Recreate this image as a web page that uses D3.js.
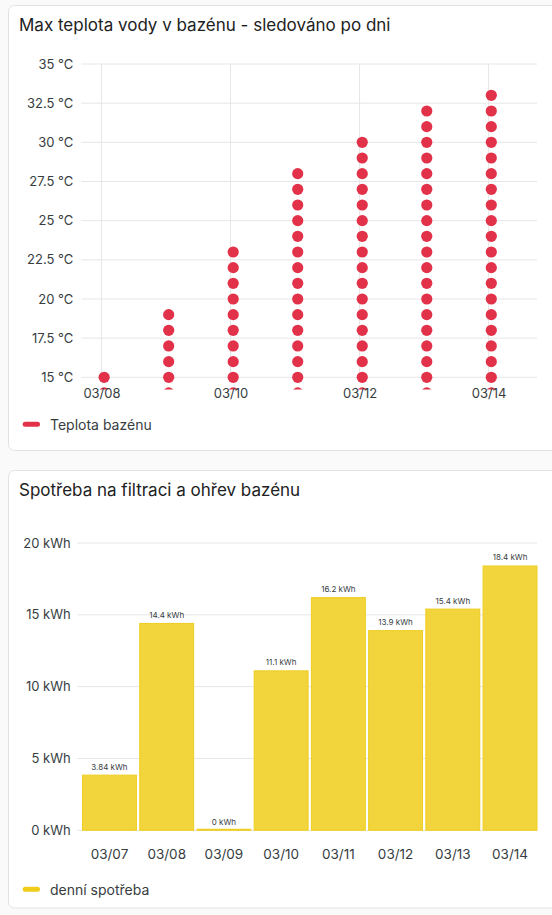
<!DOCTYPE html>
<html>
<head>
<meta charset="utf-8">
<script src="https://cdn.jsdelivr.net/npm/d3@7"></script>
<style>
  html, body { margin: 0; padding: 0; background: #fafafa; }
  svg { display: block; font-family: Inter, "Noto Sans", sans-serif; }
</style>
</head>
<body>
<svg id="chart" width="552" height="915"></svg>
<script>
// ---------- DATA ----------
// Chart 1: pool water temperature readings per day (°C)
const tempTitle = "Max teplota vody v bazénu - sledováno po dni";
const tempLegend = "Teplota bazénu";
const tempDays = ["2024-03-08", "2024-03-09", "2024-03-10", "2024-03-11", "2024-03-12", "2024-03-13", "2024-03-14"];
const tempReadings = [
  [14, 15],
  [14, 15, 16, 17, 18, 19],
  [14, 15, 16, 17, 18, 19, 20, 21, 22, 23],
  [14, 15, 16, 17, 18, 19, 20, 21, 22, 23, 24, 25, 26, 27, 28],
  [14, 15, 16, 17, 18, 19, 20, 21, 22, 23, 24, 25, 26, 27, 28, 29, 30],
  [14, 15, 16, 17, 18, 19, 20, 21, 22, 23, 24, 25, 26, 27, 28, 29, 30, 31, 32],
  [14, 15, 16, 17, 18, 19, 20, 21, 22, 23, 24, 25, 26, 27, 28, 29, 30, 31, 32, 33]
];
const tempYTicks = [15, 17.5, 20, 22.5, 25, 27.5, 30, 32.5, 35];
const tempXTickDates = ["2024-03-08", "2024-03-10", "2024-03-12", "2024-03-14"];
const tempXTickLabels = ["03/08", "03/10", "03/12", "03/14"];

// Chart 2: daily energy consumption (kWh)
const energyTitle = "Spotřeba na filtraci a ohřev bazénu";
const energyLegend = "denní spotřeba";
const energyDays = ["03/07", "03/08", "03/09", "03/10", "03/11", "03/12", "03/13", "03/14"];
const energyValues = [3.84, 14.4, 0, 11.1, 16.2, 13.9, 15.4, 18.4];
const energyYTicks = [0, 5, 10, 15, 20];

// ---------- DRAW ----------
const svg = d3.select("#chart");
const textColor = "#373d3f";
const gridColor = "#e6e6e6";
const red = "#e2324a";
const yellow = "#f2d53c";

function parseDay(s, hour) {
  const [y, m, d] = s.split("-").map(Number);
  return new Date(y, m - 1, d, hour || 0, 0, 0);
}

// Cards
function card(y, h) {
  svg.append("rect")
    .attr("x", 8.5).attr("y", y).attr("width", 560).attr("height", h)
    .attr("rx", 6).attr("fill", "#ffffff").attr("stroke", "#e2e2e2");
}
card(5.5, 445);
card(470.5, 437.5);

// ---------- Chart 1 ----------
svg.append("text").attr("x", 19).attr("y", 31)
  .attr("font-size", 17).attr("fill", "#212121").text(tempTitle);

const xT = d3.scaleTime()
  .domain([new Date(2024, 2, 7, 16, 30), new Date(2024, 2, 14, 18, 0)])
  .range([81.3, 537]);
const yT = d3.scaleLinear().domain([15, 35]).range([377.3, 64]);

const g1 = svg.append("g");
// horizontal grid
g1.append("g").selectAll("line").data(tempYTicks).join("line")
  .attr("x1", 81.3).attr("x2", 537)
  .attr("y1", d => yT(d)).attr("y2", d => yT(d))
  .attr("stroke", gridColor).attr("stroke-width", 1);
// vertical grid
g1.append("g").selectAll("line").data(tempXTickDates).join("line")
  .attr("x1", d => xT(parseDay(d))).attr("x2", d => xT(parseDay(d)))
  .attr("y1", yT(35)).attr("y2", yT(15))
  .attr("stroke", gridColor).attr("stroke-width", 1);

// y axis labels
const yAxis1 = d3.axisLeft(yT).tickValues(tempYTicks).tickSize(0).tickPadding(0)
  .tickFormat(d => d + " °C");
const ya1 = g1.append("g").attr("transform", "translate(73.3,0)").call(yAxis1);
ya1.select(".domain").remove();
ya1.selectAll("text").attr("font-size", 13).attr("fill", textColor)
  .attr("font-family", "Inter, 'Noto Sans', sans-serif");

// dots (clipped)
svg.append("clipPath").attr("id", "clip1").append("rect")
  .attr("x", 70).attr("y", 50).attr("width", 480).attr("height", 389.5 - 50);
const pts = [];
tempDays.forEach((d, i) => tempReadings[i].forEach(v => pts.push({ t: parseDay(d, 1), v })));
g1.append("g").attr("clip-path", "url(#clip1)")
  .selectAll("circle").data(pts).join("circle")
  .attr("cx", d => xT(d.t)).attr("cy", d => yT(d.v))
  .attr("r", 5.6).attr("fill", red);

// x axis labels
const xAxis1 = d3.axisBottom(xT).tickValues(tempXTickDates.map(d => parseDay(d)))
  .tickSize(0).tickPadding(0)
  .tickFormat((d, i) => tempXTickLabels[i]);
const xa1 = g1.append("g").attr("transform", "translate(0,389)").call(xAxis1);
xa1.select(".domain").remove();
xa1.selectAll("text").attr("font-size", 13).attr("fill", textColor)
  .attr("font-family", "Inter, 'Noto Sans', sans-serif");

// legend
svg.append("rect").attr("x", 22.7).attr("y", 421.8).attr("width", 17.3).attr("height", 5)
  .attr("rx", 2.5).attr("fill", red);
svg.append("text").attr("x", 50).attr("y", 430).attr("font-size", 14)
  .attr("fill", textColor).text(tempLegend);

// ---------- Chart 2 ----------
svg.append("text").attr("x", 19).attr("y", 495.7)
  .attr("font-size", 17).attr("fill", "#212121").text(energyTitle);

const xE = d3.scaleBand().domain(energyDays).range([82, 537.5])
  .paddingInner(0.04).paddingOuter(0);
const yE = d3.scaleLinear().domain([0, 20]).range([830.3, 543]);

const g2 = svg.append("g");
g2.append("g").selectAll("line").data(energyYTicks).join("line")
  .attr("x1", 77.3).attr("x2", 537)
  .attr("y1", d => yE(d)).attr("y2", d => yE(d))
  .attr("stroke", gridColor).attr("stroke-width", 1);

const yAxis2 = d3.axisLeft(yE).tickValues(energyYTicks).tickSize(0).tickPadding(0)
  .tickFormat(d => d + " kWh");
const ya2 = g2.append("g").attr("transform", "translate(70.7,0)").call(yAxis2);
ya2.select(".domain").remove();
ya2.selectAll("text").attr("font-size", 13).attr("fill", textColor)
  .attr("font-family", "Inter, 'Noto Sans', sans-serif");

// bars
g2.append("g").selectAll("rect").data(energyValues).join("rect")
  .attr("x", (d, i) => xE(energyDays[i]) + 0.5)
  .attr("width", xE.bandwidth() - 1)
  .attr("y", d => Math.min(yE(d), yE(0) - 1))
  .attr("height", d => Math.max(yE(0) - yE(d), 1))
  .attr("fill", yellow).attr("stroke", "#efcd20").attr("stroke-width", 1);

// bar value labels
g2.append("g").selectAll("text").data(energyValues).join("text")
  .attr("x", (d, i) => xE(energyDays[i]) + xE.bandwidth() / 2)
  .attr("y", d => yE(d) - 5.5)
  .attr("text-anchor", "middle").attr("font-size", 8).attr("fill", textColor)
  .text(d => d + " kWh");

// x axis labels
const xAxis2 = d3.axisBottom(xE).tickSize(0).tickPadding(0);
const xa2 = g2.append("g").attr("transform", "translate(0,849.5)").call(xAxis2);
xa2.select(".domain").remove();
xa2.selectAll("text").attr("font-size", 13.5).attr("fill", textColor)
  .attr("font-family", "Inter, 'Noto Sans', sans-serif");

// legend
svg.append("rect").attr("x", 22.7).attr("y", 886.8).attr("width", 17.3).attr("height", 5)
  .attr("rx", 2.5).attr("fill", "#f0cd1a");
svg.append("text").attr("x", 50).attr("y", 895).attr("font-size", 14)
  .attr("fill", textColor).text(energyLegend);
</script>
</body>
</html>
